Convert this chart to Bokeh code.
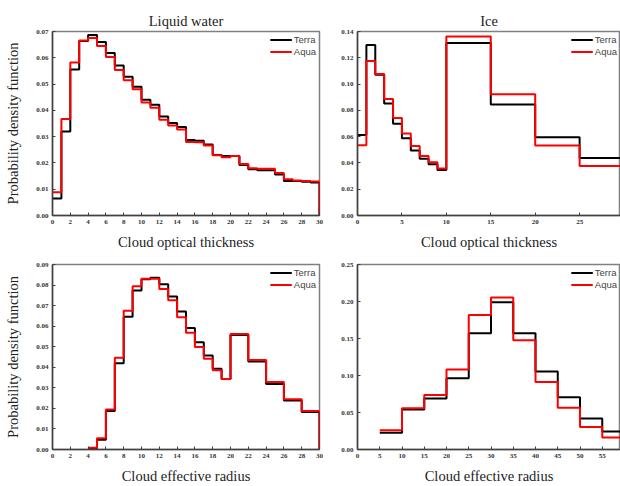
from bokeh.plotting import figure
from bokeh.layouts import column, row
from bokeh.models import Range1d, FixedTicker, NumeralTickFormatter, Legend, LegendItem
from bokeh.embed import file_html
from bokeh.resources import INLINE

# ---------------- data ----------------
# Liquid water, cloud optical thickness (bin edges 0..30, width 1)
lw_cot_edges = list(range(0, 31))
lw_cot_terra = [0.0065, 0.0320, 0.0555, 0.0664, 0.0687, 0.0660, 0.0618, 0.0571, 0.0528, 0.0490,
                0.0440, 0.0421, 0.0377, 0.0352, 0.0337, 0.0287, 0.0284, 0.0270, 0.0230, 0.0226,
                0.0226, 0.0192, 0.0176, 0.0172, 0.0172, 0.0156, 0.0131, 0.0131, 0.0128, 0.0126]
lw_cot_aqua = [0.0088, 0.0367, 0.0582, 0.0666, 0.0675, 0.0645, 0.0603, 0.0554, 0.0515, 0.0480,
               0.0430, 0.0410, 0.0364, 0.0342, 0.0327, 0.0280, 0.0279, 0.0266, 0.0229, 0.0222,
               0.0226, 0.0196, 0.0180, 0.0178, 0.0178, 0.0162, 0.0138, 0.0133, 0.0131, 0.0129]

# Ice, cloud optical thickness
ice_cot_edges = [0, 1, 2, 3, 4, 5, 6, 7, 8, 9, 10, 15, 20, 25, 30]
ice_cot_terra = [0.0613, 0.1297, 0.1070, 0.0852, 0.0699, 0.0588, 0.0495, 0.0432, 0.0390, 0.0347,
                 0.1312, 0.0845, 0.0596, 0.0437]
ice_cot_aqua = [0.0535, 0.1176, 0.1076, 0.0887, 0.0741, 0.0623, 0.0528, 0.0452, 0.0405, 0.0357,
                0.1362, 0.0922, 0.0533, 0.0377]

# Liquid water, cloud effective radius
lw_cer_edges = [4, 5, 6, 7, 8, 9, 10, 11, 12, 13, 14, 15, 16, 17, 18, 19, 20, 22, 24, 26, 28, 30]
lw_cer_terra = [0.0006, 0.0047, 0.0187, 0.0420, 0.0646, 0.0773, 0.0828, 0.0836, 0.0804, 0.0744,
                0.0671, 0.0591, 0.0522, 0.0457, 0.0393, 0.0343, 0.0557, 0.0428, 0.0319, 0.0238, 0.0182]
lw_cer_aqua = [0.0008, 0.0055, 0.0195, 0.0446, 0.0675, 0.0794, 0.0831, 0.0831, 0.0781, 0.0726,
               0.0643, 0.0568, 0.0499, 0.0441, 0.0385, 0.0343, 0.0562, 0.0435, 0.0328, 0.0245, 0.0187]

# Ice, cloud effective radius
ice_cer_edges = [5, 10, 15, 20, 25, 30, 35, 40, 45, 50, 55, 60]
ice_cer_terra = [0.0228, 0.0541, 0.0689, 0.0962, 0.1570, 0.1990, 0.1570, 0.1055, 0.0707, 0.0420, 0.0242]
ice_cer_aqua = [0.0259, 0.0559, 0.0738, 0.1082, 0.1816, 0.2053, 0.1476, 0.0912, 0.0564, 0.0304, 0.0161]

series_names = ["Terra", "Aqua"]
series_colors = ["#000000", "#ff0000"]

SERIF = "Liberation Serif"
SANS = "Liberation Sans"


def steps(edges, vals, drop_end):
    xs, ys = [], []
    for i, v in enumerate(vals):
        xs += [edges[i], edges[i + 1]]
        ys += [v, v]
    if drop_end:
        xs.append(edges[-1])
        ys.append(0.0)
    return xs, ys


def make_panel(title, xlabel, ylabel, edges, terra, aqua, xr, yr, xticks, yticks,
               width, height, bl, br, bt, bb, drop_end):
    p = figure(width=width, height=height, output_backend="svg", toolbar_location=None,
               x_range=Range1d(*xr), y_range=Range1d(*yr),
               min_border_left=bl, min_border_right=br, min_border_top=bt, min_border_bottom=bb)
    if title:
        p.title.text = title
        p.title.align = "center"
        p.title.text_font = SERIF
        p.title.text_font_size = "14.5px"
        p.title.text_font_style = "normal"
        p.title.text_color = "#222222"
        p.title.standoff = 5
    p.grid.visible = False
    p.outline_line_color = "#808080"
    p.outline_line_width = 1.5
    for ax in (p.xaxis[0], p.yaxis[0]):
        ax.axis_line_color = "#404040"
        ax.axis_line_width = 1.5
        ax.major_tick_in = 3
        ax.major_tick_out = 0
        ax.major_tick_line_color = "#404040"
        ax.minor_tick_line_color = None
        ax.major_label_text_font = SERIF
        ax.major_label_text_font_size = "7px"
        ax.major_label_text_font_style = "bold"
        ax.major_label_text_color = "#333333"
        ax.axis_label_text_font = SERIF
        ax.axis_label_text_font_size = "14.5px"
        ax.axis_label_text_font_style = "normal"
        ax.axis_label_text_color = "#222222"
    p.xaxis.ticker = FixedTicker(ticks=xticks)
    p.yaxis.ticker = FixedTicker(ticks=yticks)
    p.yaxis.formatter = NumeralTickFormatter(format="0.00")
    p.xaxis.axis_label = xlabel
    p.xaxis.major_label_standoff = 4
    p.xaxis.axis_label_standoff = 7
    p.yaxis.major_label_standoff = 4
    if ylabel:
        p.yaxis.axis_label = ylabel
        p.yaxis.axis_label_standoff = 12

    items = []
    for name, col, vals in zip(series_names, series_colors, [terra, aqua]):
        xs, ys = steps(edges, vals, drop_end)
        r = p.line(xs, ys, line_color=col, line_width=2)
        items.append(LegendItem(label=name, renderers=[r]))
    leg = Legend(items=items, location="top_right", border_line_color=None,
                 background_fill_alpha=0, label_text_font=SANS, label_text_font_size="9.5px",
                 glyph_width=22, glyph_height=11, label_height=11, spacing=1,
                 padding=1, margin=3, label_standoff=2)
    p.add_layout(leg)
    return p


p1 = make_panel("Liquid water", "Cloud optical thickness", "Probability density function",
                lw_cot_edges, lw_cot_terra, lw_cot_aqua, (0, 30), (0, 0.07),
                list(range(0, 31, 2)), [i / 100 for i in range(0, 8)],
                327, 252, 52, 8, 31, 35, True)
p2 = make_panel("Ice", "Cloud optical thickness", None,
                ice_cot_edges, ice_cot_terra, ice_cot_aqua, (0, 29.6), (0, 0.14),
                list(range(0, 30, 5)), [i / 100 for i in range(0, 15, 2)],
                293, 252, 30, 0, 31, 35, False)
p3 = make_panel(None, "Cloud effective radius", "Probability density function",
                lw_cer_edges, lw_cer_terra, lw_cer_aqua, (0, 30), (0, 0.09),
                list(range(0, 31, 2)), [i / 100 for i in range(0, 10)],
                327, 234, 52, 8, 12, 35, True)
p4 = make_panel(None, "Cloud effective radius", None,
                ice_cer_edges, ice_cer_terra, ice_cer_aqua, (0, 59.1), (0, 0.25),
                list(range(0, 56, 5)), [i / 100 for i in range(0, 26, 5)],
                293, 234, 30, 0, 12, 35, False)

layout = column(row(p1, p2, spacing=0), row(p3, p4, spacing=0), spacing=0)
open("out.html", "w").write(file_html(layout, INLINE))
